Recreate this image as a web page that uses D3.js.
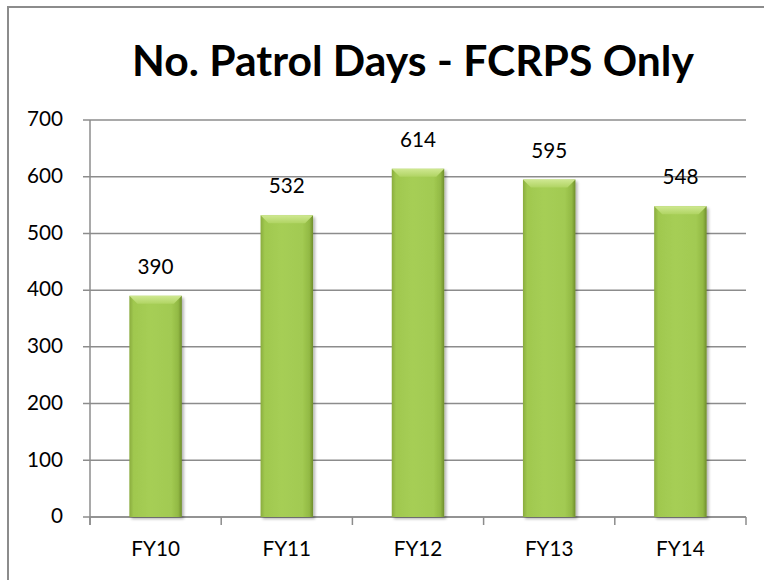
<!DOCTYPE html>
<html><head><meta charset="utf-8">
<script src="https://cdn.jsdelivr.net/npm/d3@7"></script>
<style>body{margin:0;background:#fff}svg{display:block}text{font-family:Lato,"Open Sans",sans-serif}</style>
</head><body>
<svg id="c" width="764" height="580"></svg>
<script>
const title = "No. Patrol Days - FCRPS Only";
const categories = ["FY10","FY11","FY12","FY13","FY14"];
const values = [390,532,614,595,548];
const yTicks = [0,100,200,300,400,500,600,700];

const svg = d3.select("#c");
const W = 764, H = 580;
const m = {left:90, right:746, top:120, bottom:517};

// size labels font so that "700" is ~36px wide, as in the reference
const probe = svg.append("text").attr("font-size",20).text("700");
const fs = 20*36/probe.node().getBBox().width;
probe.remove();

// outer frame
svg.append("rect").attr("x",8).attr("y",7).attr("width",W).attr("height",H)
  .attr("fill","none").attr("stroke","#8c8c8c").attr("stroke-width",2);

const defs = svg.append("defs");
const g1 = defs.append("linearGradient").attr("id","barG").attr("x1","0").attr("x2","1").attr("y1","0").attr("y2","0");
[["0%","#8aac3e"],["8%","#a0c84f"],["40%","#a6ce55"],["80%","#a2ca52"],["93%","#92b944"],["100%","#6f8d2c"]]
  .forEach(([o,c])=>g1.append("stop").attr("offset",o).attr("stop-color",c));
const g2 = defs.append("linearGradient").attr("id","topG").attr("x1","0").attr("x2","0").attr("y1","0").attr("y2","1");
[["0%","#cfe891"],["100%","#b0d463"]].forEach(([o,c])=>g2.append("stop").attr("offset",o).attr("stop-color",c));
const f = defs.append("filter").attr("id","sh").attr("x","-20%").attr("y","-5%").attr("width","150%").attr("height","115%");
f.append("feGaussianBlur").attr("in","SourceAlpha").attr("stdDeviation",1.6);
f.append("feOffset").attr("dx",2).attr("dy",1.5).attr("result","b");
f.append("feComponentTransfer").append("feFuncA").attr("type","linear").attr("slope",0.3);
const mg = f.append("feMerge"); mg.append("feMergeNode"); mg.append("feMergeNode").attr("in","SourceGraphic");

const x = d3.scaleBand().domain(categories).range([m.left,m.right]).paddingInner(0.6).paddingOuter(0.3);
const y = d3.scaleLinear().domain([0,700]).range([m.bottom,m.top]);

// gridlines
svg.append("g").selectAll("line").data(yTicks).join("line")
  .attr("x1",83).attr("x2",m.right).attr("y1",d=>y(d)).attr("y2",d=>y(d))
  .attr("stroke","#8c8c8c").attr("stroke-width",1.5);

// y axis
const ya = svg.append("g").attr("transform",`translate(${m.left},0)`)
  .call(d3.axisLeft(y).tickValues(yTicks).tickSize(0).tickPadding(27));
ya.select(".domain").attr("stroke","#8c8c8c").attr("stroke-width",1.5).attr("d",`M0,${m.top}V${m.bottom+8}`);
ya.selectAll("text").attr("font-size",fs).attr("fill","#000").attr("font-family","Lato").attr("dy","0.28em");

// x axis
const xa = svg.append("g").attr("transform",`translate(0,${m.bottom})`)
  .call(d3.axisBottom(x).tickSize(0));
xa.select(".domain").attr("stroke","#8c8c8c").attr("stroke-width",1.5).attr("d",`M${m.left},0H${m.right}`);
xa.selectAll("text").attr("font-size",fs).attr("fill","#000").attr("font-family","Lato").attr("y",39).attr("dy",0);
// boundary ticks
const step = (m.right-m.left)/categories.length;
xa.append("g").selectAll("line").data(d3.range(categories.length+1)).join("line")
  .attr("x1",i=>m.left+i*step).attr("x2",i=>m.left+i*step).attr("y1",0).attr("y2",8)
  .attr("stroke","#8c8c8c").attr("stroke-width",1.5);

// bars
const bars = svg.append("g").selectAll("g").data(categories.map((c,i)=>({c,v:values[i]}))).join("g");
bars.append("rect").attr("x",d=>x(d.c)).attr("y",d=>y(d.v)).attr("width",x.bandwidth())
  .attr("height",d=>y(0)-y(d.v)).attr("fill","url(#barG)").attr("filter","url(#sh)");
const bv = 8;
bars.append("path").attr("d",d=>{
  const x0=x(d.c), x1=x0+x.bandwidth(), t=y(d.v);
  return `M${x0},${t}H${x1}L${x1-bv},${t+bv}H${x0+bv}Z`;
}).attr("fill","url(#topG)");
bars.append("text").attr("x",d=>x(d.c)+x.bandwidth()/2).attr("y",d=>y(d.v)-22)
  .attr("text-anchor","middle").attr("font-size",fs).text(d=>d.v);

// title
const tt = svg.append("text").attr("x",413).attr("y",76).attr("text-anchor","middle")
  .attr("font-weight","bold").attr("font-size",40).text(title);
const w = tt.node().getComputedTextLength();
tt.attr("font-size",40*562/w);
</script>
</body></html>
